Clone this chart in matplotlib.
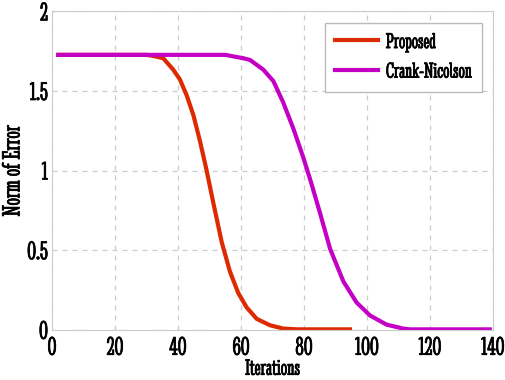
import matplotlib
matplotlib.use('Agg')
import matplotlib.pyplot as plt
import matplotlib.patheffects as pe

# values
proposed_x = [2, 30, 32.2, 35.3, 38.5, 40.6, 42.8, 44.9, 47, 49, 51.3, 53.9,
              56.5, 59.1, 61.8, 65, 69.2, 73.4, 78, 94.6]
proposed_y = [1.727, 1.727, 1.72, 1.706, 1.634, 1.573, 1.471, 1.348, 1.184, 1.01,
              0.79, 0.55, 0.366, 0.233, 0.141, 0.069, 0.029, 0.008, 0.003, 0.003]
cn_x = [2, 55, 60.7, 62.9, 67.1, 70.3, 73.4, 76.6, 79.8, 82.2, 85.1, 88.3, 92.5,
        96.7, 101, 106.2, 111.5, 113.7, 139]
cn_y = [1.727, 1.727, 1.706, 1.695, 1.634, 1.562, 1.429, 1.266, 1.082, 0.93, 0.734,
        0.509, 0.305, 0.172, 0.09, 0.033, 0.008, 0.003, 0.003]
xticks = [0, 20, 40, 60, 80, 100, 120, 140]
yticks = [0, 0.5, 1, 1.5, 2]
ytick_labels = ['0', '0.5', '1', '1.5', '2']

plt.rcParams['font.family'] = ['Stint Ultra Condensed', 'DejaVu Serif']
bold = [pe.withStroke(linewidth=0.5, foreground='black')]

fig = plt.figure(figsize=(5.05, 3.8), dpi=100)
ax = fig.add_axes([0.103, 0.132, 0.873, 0.838])

ax.plot(proposed_x, proposed_y, color='#dd2a00', lw=3, label='Proposed')
ax.plot(cn_x, cn_y, color='#c400c4', lw=3, label='Crank-Nicolson')

ax.set_xlim(0, 140)
ax.set_ylim(0, 2)
ax.set_xticks(xticks)
ax.set_yticks(yticks)
ax.set_yticklabels(ytick_labels)
ax.tick_params(length=0, labelsize=19)
ax.tick_params(axis='x', pad=5)
ax.tick_params(axis='y', pad=3)
for t in ax.get_xticklabels() + ax.get_yticklabels():
    t.set_path_effects(bold)
ax.grid(True, color='#cccccc', ls=(0, (4, 4)), lw=0.9)
for s in ax.spines.values():
    s.set_color('#cccccc')

ax.set_xlabel('Iterations', fontsize=16.5, labelpad=0, path_effects=bold)
ax.set_ylabel('Norm of Error', fontsize=18.5, labelpad=2, path_effects=bold)

leg = ax.legend(loc='upper right', fontsize=16, fancybox=False, framealpha=1,
                edgecolor='#bbbbbb', handlelength=1.95, handletextpad=0.35,
                borderpad=0.45, labelspacing=0.45, borderaxespad=0.5)
for t in leg.get_texts():
    t.set_path_effects(bold)

fig.savefig('out.png')
